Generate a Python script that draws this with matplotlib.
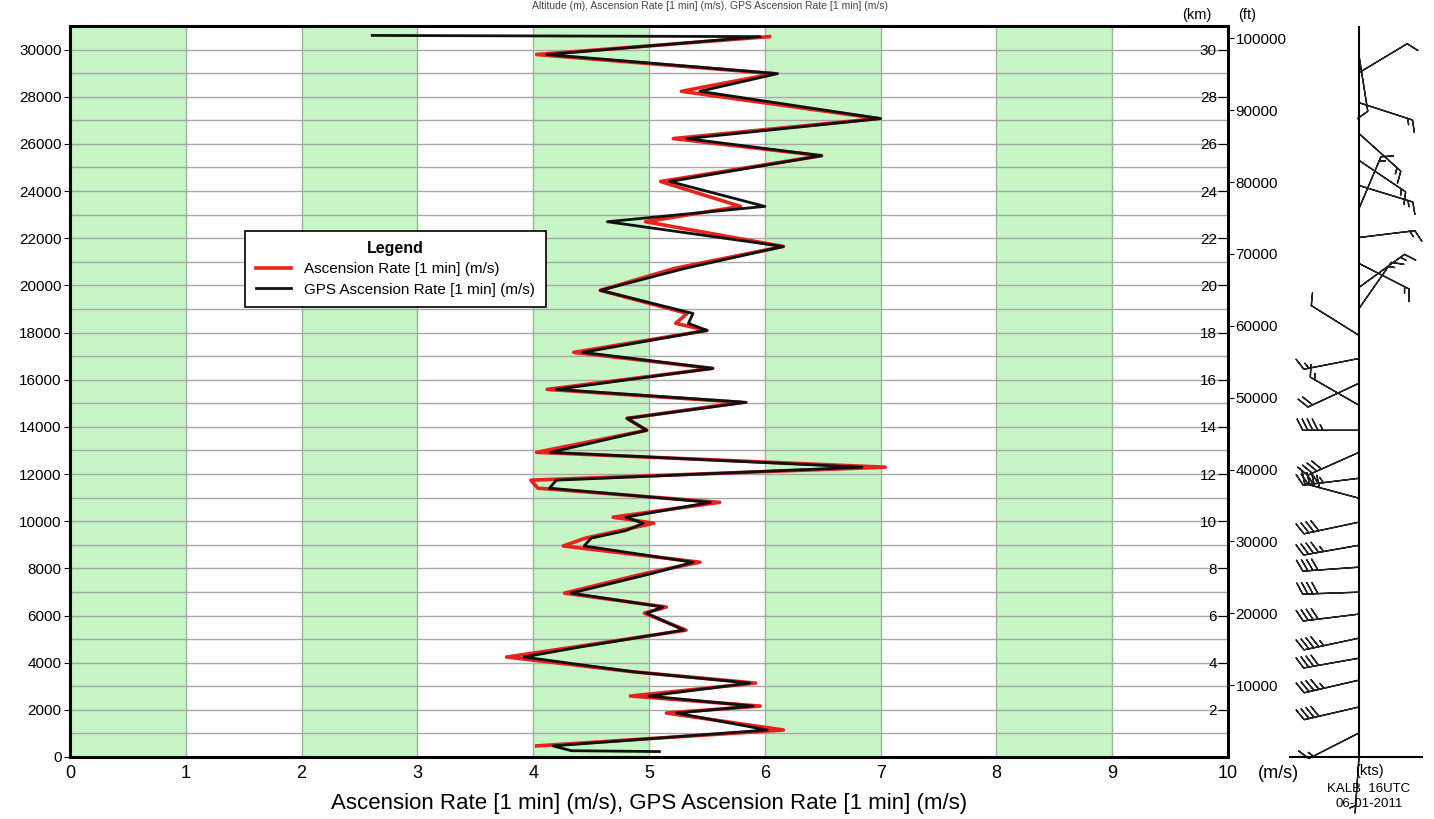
import numpy as np
import matplotlib.pyplot as plt

plt.rcParams['font.family'] = ['Liberation Sans', 'DejaVu Sans']

# profile points: altitude (m), red / black rate (m/s)
alt_m = [230, 267, 470, 1145, 1865, 2160, 2585, 3135, 3615, 4240,
         4660, 5380, 6100, 6360, 6950, 7800, 8260, 8950, 9280, 9600,
         9915, 10170, 10800, 11400, 11740, 12290, 12920, 13855, 14360, 15040,
         15590, 16480, 17160, 18090, 18390, 18810, 19790, 20720, 21650, 22700,
         23350, 24405, 25500, 26225, 27075, 28230, 28980, 29790, 30550, 30600]
asc_rate = [np.nan, np.nan, 4.03, 6.16, 5.15, 5.96, 4.84, 5.92, 4.86, 3.77,
            4.35, 5.32, 4.96, 5.15, 4.27, 4.98, 5.44, 4.26, 4.45, 4.75,
            5.04, 4.69, 5.61, 4.04, 3.98, 7.04, 4.03, 4.98, 4.81, 5.80,
            4.12, 5.55, 4.35, 5.50, 5.23, 5.33, 4.58, 5.22, 6.16, 4.97,
            5.79, 5.10, 6.49, 5.21, 6.98, 5.28, 6.08, 4.03, 6.04, np.nan]
gps_rate = [5.09, 4.33, 4.17, 6.02, 5.24, 5.90, 5.00, 5.87, 4.86, 3.92,
            4.40, 5.30, 4.98, 5.12, 4.33, 5.04, 5.38, 4.44, 4.50, 4.80,
            4.95, 4.80, 5.53, 4.14, 4.20, 6.84, 4.15, 4.98, 4.81, 5.84,
            4.20, 5.55, 4.43, 5.50, 5.34, 5.38, 4.58, 5.31, 6.16, 4.64,
            6.00, 5.18, 6.49, 5.33, 7.00, 5.44, 6.11, 4.12, 5.96, 2.61]

# wind barbs: altitude (m), direction (deg, from), speed (kts)
wind_alt = [0, 1020, 2120, 3260, 4190, 5040, 6060, 6990, 8050, 8980,
            9960, 10975, 11820, 12920, 13855, 14915, 15850, 16900, 17880, 19020,
            19915, 20930, 22030, 23260, 24235, 25300, 26440, 27750, 29020, 29740]
wind_dir = [184, 243, 257, 257, 260, 258, 263, 268, 266, 260,
            258, 285, 263, 246, 270, 300, 245, 259, 302, 35,
            54, 117, 83, 23, 107, 124, 132, 108, 59, 171]
wind_kt = [5, 15, 40, 45, 40, 45, 40, 40, 40, 45,
           40, 40, 45, 40, 45, 15, 20, 15, 10, 15,
           15, 15, 15, 15, 15, 15, 15, 15, 10, 10]

km_ticks = list(range(2, 31, 2))
ft_ticks = list(range(10000, 100001, 10000))

W, H = 1434, 819
fig = plt.figure(figsize=(W / 100, H / 100), dpi=100)


def box(l, t, r, b):
    return [l / W, 1 - b / H, (r - l) / W, (b - t) / H]


ax = fig.add_axes(box(70, 26, 1228, 757))
for x0 in range(0, 10, 2):
    ax.axvspan(x0, x0 + 1, color='#c6f5c6', lw=0, zorder=0)
ax.set_xlim(0, 10)
ax.set_ylim(0, 31000)
ax.set_xticks(range(11))
ax.set_yticks(range(0, 30001, 2000))
ax.set_yticks(range(1000, 31000, 2000), minor=True)
ax.set_axisbelow(True)
ax.grid(axis='y', which='both', color='#a8a8a8', lw=1)
ax.grid(axis='x', color='#9cb49c', lw=1)
ax.tick_params(axis='x', length=0, pad=6, labelsize=13)
ax.tick_params(axis='y', which='major', length=4, pad=2, labelsize=11)
ax.tick_params(axis='y', which='minor', length=0)
for s in ax.spines.values():
    s.set_linewidth(2.2)

l1, = ax.plot(asc_rate, alt_m, color='#e8221c', lw=2.6, zorder=3,
              solid_joinstyle='round', label='Ascension Rate [1 min] (m/s)')
l2, = ax.plot(gps_rate, alt_m, color='#111111', lw=2.0, zorder=4,
              solid_joinstyle='round', label='GPS Ascension Rate [1 min] (m/s)')
ax.set_xlabel('Ascension Rate [1 min] (m/s), GPS Ascension Rate [1 min] (m/s)',
              fontsize=16, labelpad=8)

leg = ax.legend(handles=[l1, l2], loc='upper left', bbox_to_anchor=(0.151, 0.72),
                borderaxespad=0, title='Legend', fontsize=11,
                title_fontproperties={'weight': 'bold', 'size': 11.5},
                fancybox=False, edgecolor='black', framealpha=1,
                handlelength=2.3, labelspacing=0.4, borderpad=0.7,
                handletextpad=0.9)
leg.get_frame().set_linewidth(1.2)
leg.set_zorder(10)

# km scale inside the right edge
axk = ax.twinx()
axk.set_ylim(0, 31)
axk.set_yticks(km_ticks)
axk.tick_params(axis='y', direction='in', length=7, pad=-8, labelsize=11)
for t in axk.yaxis.get_major_ticks():
    t.label2.set_horizontalalignment('right')
for s in axk.spines.values():
    s.set_visible(False)

# ft scale outside
axf = ax.twinx()
axf.set_ylim(0, 31000 / 0.3048)
axf.set_yticks(ft_ticks)
axf.tick_params(axis='y', direction='out', length=4, pad=1.5, labelsize=11)
for s in axf.spines.values():
    s.set_visible(False)

fig.text(1197 / W, 1 - 15 / H, '(km)', ha='center', va='center', fontsize=10.5)
fig.text(1247 / W, 1 - 15 / H, '(ft)', ha='center', va='center', fontsize=10.5)
fig.text(1258 / W, 1 - 773 / H, '(m/s)', ha='left', va='center', fontsize=13)
fig.text(710 / W, 1 - 1 / H,
         'Altitude (m), Ascension Rate [1 min] (m/s), GPS Ascension Rate [1 min] (m/s)',
         ha='center', va='top', fontsize=7.5, color='#444444')

# wind barb panel
axb = fig.add_axes(box(1290, 26, 1422, 757))
axb.set_xlim(-69, 63)
axb.set_ylim(0, 31000)
axb.patch.set_alpha(0)
axb.set_xticks([])
axb.set_yticks([])
for s in ['top', 'left', 'right']:
    axb.spines[s].set_visible(False)
axb.spines['bottom'].set_linewidth(1.5)
axb.axvline(0, color='black', lw=1.5)
d = np.radians(wind_dir)
spd = np.array(wind_kt, dtype=float)
u = -spd * np.sin(d)
v = -spd * np.cos(d)
axb.barbs(np.zeros(len(wind_alt)), wind_alt, u, v, length=9, pivot='tip',
          sizes=dict(spacing=0.09, height=0.2, width=0.2),
          linewidth=1.0, color='#222222', clip_on=False)

fig.text(1355 / W, 1 - 771 / H, '(kts)', ha='left', va='center', fontsize=10.5)
fig.text(1369 / W, 1 - 789 / H, 'KALB  16UTC', ha='center', va='center', fontsize=9.5)
fig.text(1369 / W, 1 - 804 / H, '06-01-2011', ha='center', va='center', fontsize=9.5)

fig.savefig('out.png', dpi=100)
